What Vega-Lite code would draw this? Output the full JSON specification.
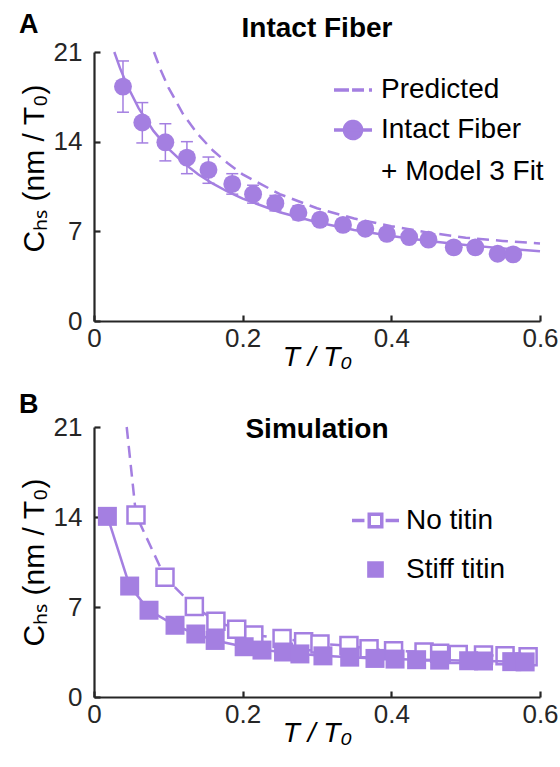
{
  "$schema": "https://vega.github.io/schema/vega-lite/v6.json",
  "padding": {"left": 19, "top": 11, "right": 2, "bottom": 2},
  "config": {
    "font": "Liberation Sans",
    "view": {"stroke": null},
    "axis": {
      "grid": false,
      "domainColor": "#262626", "domainWidth": 2.2,
      "tickColor": "#262626", "tickWidth": 2.2, "tickSize": -6,
      "labelFont": "Liberation Sans", "labelFontSize": 26, "labelColor": "#262626", "labelFlush": false,
      "titleFont": "Liberation Sans", "titleFontSize": 28, "titleFontWeight": "normal", "titleColor": "#000000"
    },
    "axisX": {"labelPadding": 10, "titlePadding": -8},
    "axisY": {"labelPadding": 18, "titleFontSize": 30},
    "legend": {"labelFont": "Liberation Sans", "labelColor": "#000000", "labelLimit": 0}
  },
  "resolve": {"scale": {"color": "independent"}, "legend": {"color": "independent"}},
  "datasets": {
    "a_lines": [
      {"x": 0.0273, "y": 21.0, "series": "Intact Fiber"},
      {"x": 0.035, "y": 19.74, "series": "Intact Fiber"},
      {"x": 0.045, "y": 18.34, "series": "Intact Fiber"},
      {"x": 0.06, "y": 16.62, "series": "Intact Fiber"},
      {"x": 0.08, "y": 14.84, "series": "Intact Fiber"},
      {"x": 0.1, "y": 13.46, "series": "Intact Fiber"},
      {"x": 0.12, "y": 12.36, "series": "Intact Fiber"},
      {"x": 0.14, "y": 11.46, "series": "Intact Fiber"},
      {"x": 0.16, "y": 10.72, "series": "Intact Fiber"},
      {"x": 0.18, "y": 10.09, "series": "Intact Fiber"},
      {"x": 0.2, "y": 9.55, "series": "Intact Fiber"},
      {"x": 0.25, "y": 8.49, "series": "Intact Fiber"},
      {"x": 0.3, "y": 7.71, "series": "Intact Fiber"},
      {"x": 0.35, "y": 7.11, "series": "Intact Fiber"},
      {"x": 0.4, "y": 6.64, "series": "Intact Fiber"},
      {"x": 0.45, "y": 6.25, "series": "Intact Fiber"},
      {"x": 0.5, "y": 5.94, "series": "Intact Fiber"},
      {"x": 0.55, "y": 5.67, "series": "Intact Fiber"},
      {"x": 0.6, "y": 5.45, "series": "Intact Fiber"},
      {"x": 0.0807, "y": 21.0, "series": "Predicted"},
      {"x": 0.09, "y": 19.55, "series": "Predicted"},
      {"x": 0.1, "y": 18.24, "series": "Predicted"},
      {"x": 0.12, "y": 16.14, "series": "Predicted"},
      {"x": 0.14, "y": 14.56, "series": "Predicted"},
      {"x": 0.16, "y": 13.31, "series": "Predicted"},
      {"x": 0.18, "y": 12.31, "series": "Predicted"},
      {"x": 0.2, "y": 11.45, "series": "Predicted"},
      {"x": 0.25, "y": 9.9, "series": "Predicted"},
      {"x": 0.3, "y": 8.8, "series": "Predicted"},
      {"x": 0.35, "y": 8.0, "series": "Predicted"},
      {"x": 0.4, "y": 7.4, "series": "Predicted"},
      {"x": 0.45, "y": 6.9, "series": "Predicted"},
      {"x": 0.5, "y": 6.5, "series": "Predicted"},
      {"x": 0.55, "y": 6.25, "series": "Predicted"},
      {"x": 0.6, "y": 6.05, "series": "Predicted"}
    ],
    "a_pts": [
      {"x": 0.039, "y": 18.3, "lo": 16.3, "hi": 20.3},
      {"x": 0.065, "y": 15.5, "lo": 13.9, "hi": 17.05},
      {"x": 0.096, "y": 13.95, "lo": 12.5, "hi": 15.4},
      {"x": 0.125, "y": 12.75, "lo": 11.5, "hi": 14.0},
      {"x": 0.154, "y": 11.8, "lo": 10.75, "hi": 12.8},
      {"x": 0.186, "y": 10.7, "lo": 9.9, "hi": 11.5},
      {"x": 0.214, "y": 9.9, "lo": 9.2, "hi": 10.6},
      {"x": 0.244, "y": 9.2, "lo": 8.6, "hi": 9.8},
      {"x": 0.275, "y": 8.45, "lo": 7.9, "hi": 9.0},
      {"x": 0.304, "y": 7.9, "lo": 7.4, "hi": 8.4},
      {"x": 0.335, "y": 7.5, "lo": 7.1, "hi": 7.9},
      {"x": 0.365, "y": 7.2, "lo": 6.8, "hi": 7.6},
      {"x": 0.394, "y": 6.8, "lo": 6.45, "hi": 7.15},
      {"x": 0.424, "y": 6.55, "lo": 6.2, "hi": 6.9},
      {"x": 0.45, "y": 6.35, "lo": 6.0, "hi": 6.7},
      {"x": 0.484, "y": 5.75, "lo": 5.4, "hi": 6.1},
      {"x": 0.513, "y": 5.75, "lo": 5.4, "hi": 6.1},
      {"x": 0.543, "y": 5.25, "lo": 4.95, "hi": 5.55},
      {"x": 0.564, "y": 5.2, "lo": 4.9, "hi": 5.5}
    ],
    "b_pts": [
      {"x": 0.044, "y": 21.0, "series": "No titin", "kind": "curve"},
      {"x": 0.0565, "y": 14.16, "series": "No titin", "kind": "sim"},
      {"x": 0.0955, "y": 9.31, "series": "No titin", "kind": "sim"},
      {"x": 0.135, "y": 7.03, "series": "No titin", "kind": "sim"},
      {"x": 0.164, "y": 5.9, "series": "No titin", "kind": "sim"},
      {"x": 0.192, "y": 5.27, "series": "No titin", "kind": "sim"},
      {"x": 0.215, "y": 4.82, "series": "No titin", "kind": "sim"},
      {"x": 0.253, "y": 4.55, "series": "No titin", "kind": "sim"},
      {"x": 0.282, "y": 4.3, "series": "No titin", "kind": "sim"},
      {"x": 0.304, "y": 4.12, "series": "No titin", "kind": "sim"},
      {"x": 0.343, "y": 4.0, "series": "No titin", "kind": "sim"},
      {"x": 0.37, "y": 3.75, "series": "No titin", "kind": "sim"},
      {"x": 0.403, "y": 3.6, "series": "No titin", "kind": "sim"},
      {"x": 0.444, "y": 3.5, "series": "No titin", "kind": "sim"},
      {"x": 0.465, "y": 3.4, "series": "No titin", "kind": "sim"},
      {"x": 0.49, "y": 3.3, "series": "No titin", "kind": "sim"},
      {"x": 0.524, "y": 3.27, "series": "No titin", "kind": "sim"},
      {"x": 0.553, "y": 3.2, "series": "No titin", "kind": "sim"},
      {"x": 0.584, "y": 3.13, "series": "No titin", "kind": "sim"},
      {"x": 0.018, "y": 14.05, "series": "Stiff titin", "kind": "sim"},
      {"x": 0.048, "y": 8.63, "series": "Stiff titin", "kind": "sim"},
      {"x": 0.074, "y": 6.75, "series": "Stiff titin", "kind": "sim"},
      {"x": 0.109, "y": 5.58, "series": "Stiff titin", "kind": "sim"},
      {"x": 0.137, "y": 4.9, "series": "Stiff titin", "kind": "sim"},
      {"x": 0.163, "y": 4.4, "series": "Stiff titin", "kind": "sim"},
      {"x": 0.202, "y": 3.91, "series": "Stiff titin", "kind": "sim"},
      {"x": 0.226, "y": 3.65, "series": "Stiff titin", "kind": "sim"},
      {"x": 0.255, "y": 3.5, "series": "Stiff titin", "kind": "sim"},
      {"x": 0.277, "y": 3.35, "series": "Stiff titin", "kind": "sim"},
      {"x": 0.308, "y": 3.2, "series": "Stiff titin", "kind": "sim"},
      {"x": 0.344, "y": 3.1, "series": "Stiff titin", "kind": "sim"},
      {"x": 0.378, "y": 3.0, "series": "Stiff titin", "kind": "sim"},
      {"x": 0.405, "y": 2.95, "series": "Stiff titin", "kind": "sim"},
      {"x": 0.434, "y": 2.9, "series": "Stiff titin", "kind": "sim"},
      {"x": 0.465, "y": 2.87, "series": "Stiff titin", "kind": "sim"},
      {"x": 0.504, "y": 2.82, "series": "Stiff titin", "kind": "sim"},
      {"x": 0.524, "y": 2.8, "series": "Stiff titin", "kind": "sim"},
      {"x": 0.562, "y": 2.75, "series": "Stiff titin", "kind": "sim"},
      {"x": 0.58, "y": 2.73, "series": "Stiff titin", "kind": "sim"}
    ]
  },
  "spacing": 20,
  "vconcat": [
    {
      "title": {"text": "A", "anchor": "start", "frame": "bounds", "fontSize": 27, "fontWeight": "bold", "color": "#000000", "baseline": "alphabetic", "offset": -45},
      "resolve": {"scale": {"color": "independent"}, "legend": {"color": "independent"}},
      "vconcat": [
        {
          "width": 446,
          "height": 269,
          "title": {"text": "Intact Fiber", "anchor": "middle", "frame": "group", "fontSize": 28, "fontWeight": "bold", "color": "#000000", "baseline": "alphabetic", "offset": -26},
          "layer": [
            {
              "data": {"name": "a_pts"},
              "mark": {"type": "rule", "strokeWidth": 1.5, "color": "#A47FE1"},
              "encoding": {
                "x": {"field": "x", "type": "quantitative", "scale": {"domain": [0, 0.6], "nice": false}, "axis": {"values": [0, 0.2, 0.4, 0.6], "format": "~g", "title": "T / T₀", "titleFontStyle": "italic"}},
                "y": {"field": "lo", "type": "quantitative", "scale": {"domain": [0, 21], "nice": false}, "axis": {"values": [0, 7, 14, 21], "title": "Cₕₛ   (nm / T₀)", "titleY": 116}},
                "y2": {"field": "hi"}
              }
            },
            {
              "data": {"name": "a_pts"},
              "mark": {"type": "tick", "orient": "horizontal", "size": 12, "thickness": 1.5, "color": "#A47FE1", "opacity": 1},
              "encoding": {
                "x": {"field": "x", "type": "quantitative"},
                "y": {"field": "lo", "type": "quantitative"}
              }
            },
            {
              "data": {"name": "a_pts"},
              "mark": {"type": "tick", "orient": "horizontal", "size": 12, "thickness": 1.5, "color": "#A47FE1", "opacity": 1},
              "encoding": {
                "x": {"field": "x", "type": "quantitative"},
                "y": {"field": "hi", "type": "quantitative"}
              }
            },
            {
              "data": {"name": "a_lines"},
              "transform": [{"filter": "datum.series === 'Predicted'"}],
              "mark": {"type": "line", "strokeWidth": 2.5, "strokeDash": [12, 7]},
              "encoding": {
                "x": {"field": "x", "type": "quantitative"},
                "y": {"field": "y", "type": "quantitative"},
                "color": {
                  "field": "series", "type": "nominal",
                  "scale": {"domain": ["Predicted", "Intact Fiber", "+ Model 3 Fit"], "range": ["#A47FE1", "#A47FE1", "#A47FE1"]},
                  "legend": {
                    "title": null, "orient": "none", "legendX": 238, "legendY": 17,
                    "labelFontSize": 28, "labelOffset": 7, "symbolSize": 1444, "rowPadding": 5,
                    "encode": {
                      "symbols": {
                        "update": {
                          "shape": {"signal": "datum.value === 'Predicted' ? 'M-1,0H-0.21M-0.05,0H0.58M0.84,0H1' : (datum.value === 'Intact Fiber' ? 'M-1,0H1M0.45,0A0.45,0.45,0,1,1,-0.45,0A0.45,0.45,0,1,1,0.45,0Z' : 'M0,0')"},
                          "fill": {"value": "#9A6ADF"},
                          "stroke": {"value": "#9A6ADF"},
                          "strokeWidth": {"value": 3.5},
                          "strokeDash": {"value": [1, 0]},
                          "opacity": {"value": 1}
                        }
                      }
                    }
                  }
                }
              }
            },
            {
              "data": {"name": "a_lines"},
              "transform": [{"filter": "datum.series === 'Intact Fiber'"}],
              "mark": {"type": "line", "strokeWidth": 2.5},
              "encoding": {
                "x": {"field": "x", "type": "quantitative"},
                "y": {"field": "y", "type": "quantitative"},
                "color": {"field": "series", "type": "nominal"}
              }
            },
            {
              "data": {"name": "a_pts"},
              "mark": {"type": "circle", "size": 320, "opacity": 1},
              "encoding": {
                "x": {"field": "x", "type": "quantitative"},
                "y": {"field": "y", "type": "quantitative"},
                "color": {"datum": "Intact Fiber", "type": "nominal"}
              }
            }
          ]
        }
      ]
    },
    {
      "title": {"text": "B", "anchor": "start", "frame": "bounds", "fontSize": 27, "fontWeight": "bold", "color": "#000000", "baseline": "alphabetic", "offset": -26},
      "resolve": {"scale": {"color": "independent"}, "legend": {"color": "independent"}},
      "vconcat": [
        {
          "width": 446,
          "height": 270,
          "title": {"text": "Simulation", "anchor": "middle", "frame": "group", "fontSize": 28, "fontWeight": "bold", "color": "#000000", "baseline": "alphabetic", "offset": -52},
          "data": {"name": "b_pts"},
          "layer": [
            {
              "transform": [{"filter": "datum.series === 'No titin'"}],
              "mark": {"type": "line", "strokeWidth": 2.5, "strokeDash": [12, 7]},
              "encoding": {
                "x": {"field": "x", "type": "quantitative", "scale": {"domain": [0, 0.6], "nice": false}, "axis": {"values": [0, 0.2, 0.4, 0.6], "format": "~g", "title": "T / T₀", "titleFontStyle": "italic"}},
                "y": {"field": "y", "type": "quantitative", "scale": {"domain": [0, 21], "nice": false}, "axis": {"values": [0, 7, 14, 21], "title": "Cₕₛ   (nm / T₀)"}},
                "color": {
                  "field": "series", "type": "nominal",
                  "scale": {"domain": ["No titin", "Stiff titin"], "range": ["#A47FE1", "#A47FE1"]},
                  "legend": {
                    "title": null, "orient": "none", "legendX": 256, "legendY": 68,
                    "labelFontSize": 28, "labelOffset": 5, "symbolSize": 2209, "rowPadding": 9,
                    "encode": {
                      "symbols": {
                        "update": {
                          "shape": {"signal": "datum.value === 'No titin' ? 'M-1,0H-0.47M0.43,0H1M-0.266,-0.266H0.266V0.266H-0.266ZM-0.266,-0.266V0.266H0.266V-0.266Z' : 'M-0.28,-0.28H0.28V0.28H-0.28Z'"},
                          "fill": {"value": "#9A6ADF"},
                          "stroke": {"value": "#9A6ADF"},
                          "strokeWidth": {"value": 3.5},
                          "strokeDash": {"value": [1, 0]},
                          "opacity": {"value": 1}
                        }
                      }
                    }
                  }
                }
              }
            },
            {
              "transform": [{"filter": "datum.series === 'No titin' && datum.kind === 'sim'"}],
              "mark": {"type": "point", "shape": "square", "size": 289, "filled": false, "fill": "#ffffff", "strokeWidth": 2.5, "opacity": 1},
              "encoding": {
                "x": {"field": "x", "type": "quantitative"},
                "y": {"field": "y", "type": "quantitative"},
                "color": {"field": "series", "type": "nominal"}
              }
            },
            {
              "transform": [{"filter": "datum.series === 'Stiff titin'"}],
              "mark": {"type": "line", "strokeWidth": 2.5},
              "encoding": {
                "x": {"field": "x", "type": "quantitative"},
                "y": {"field": "y", "type": "quantitative"},
                "color": {"field": "series", "type": "nominal"}
              }
            },
            {
              "transform": [{"filter": "datum.series === 'Stiff titin'"}],
              "mark": {"type": "square", "size": 361, "opacity": 1},
              "encoding": {
                "x": {"field": "x", "type": "quantitative"},
                "y": {"field": "y", "type": "quantitative"},
                "color": {"field": "series", "type": "nominal"}
              }
            }
          ]
        }
      ]
    }
  ]
}
